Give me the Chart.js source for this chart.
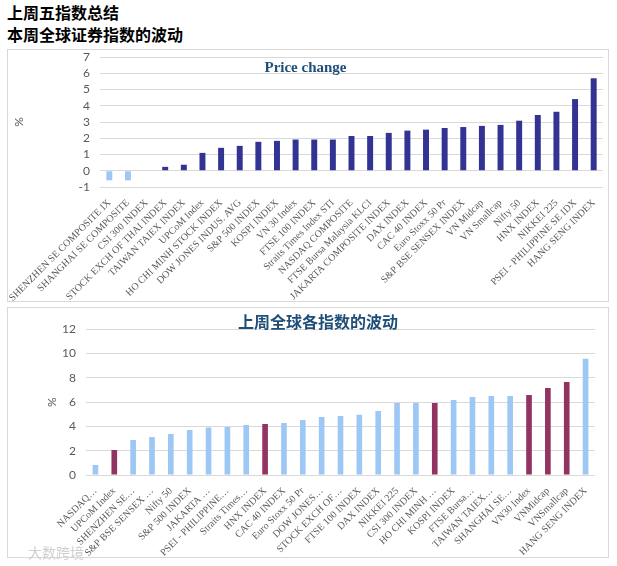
<!DOCTYPE html>
<html>
<head>
<meta charset="utf-8">
<script src="https://cdn.jsdelivr.net/npm/chart.js@4.4.0/dist/chart.umd.min.js"></script>
<style>
    body { margin: 0; background: #fff; width: 617px; height: 566px; position: relative; overflow: hidden;
        font-family: "Noto Sans CJK SC", sans-serif; }
    .head { position: absolute; left: 7px; font-size: 16px; font-weight: bold; color: #000; line-height: 20px; }
    .box { position: absolute; left: 7px; width: 600px; border: 1px solid #d9d9d9; }
    .box canvas { display: block; }
    .mark { position: absolute; left: 28px; top: 542px; color: #d0d0d0; font-size: 14px; }
</style>
</head>
<body>
<div class="head" style="top:2px">上周五指数总结</div>
<div class="head" style="top:24px">本周全球证券指数的波动</div>
<div class="box" style="top:49px;height:251px"><canvas id="priceChange" width="600" height="251"></canvas></div>
<div class="box" style="top:307px;height:249px"><canvas id="volatility" width="600" height="249"></canvas></div>
<div class="mark">大数跨境</div>
<script>
// weekly price change, %
const priceLabels = ['SHENZHEN SE COMPOSITE IX', 'SHANGHAI SE COMPOSITE', 'CSI 300 INDEX',
    'STOCK EXCH OF THAI INDEX', 'TAIWAN TAIEX INDEX', 'UPCoM Index', 'HO CHI MINH STOCK INDEX',
    'DOW JONES INDUS. AVG', 'S&P 500 INDEX', 'KOSPI INDEX', 'VN 30 Index', 'FTSE 100 INDEX',
    'Straits Times Index STI', 'NASDAQ COMPOSITE', 'FTSE Bursa Malaysia KLCI', 'JAKARTA COMPOSITE INDEX',
    'DAX INDEX', 'CAC 40 INDEX', 'Euro Stoxx 50 Pr', 'S&P BSE SENSEX INDEX', 'VN Midcap', 'VN Smallcap',
    'Nifty 50', 'HNX INDEX', 'NIKKEI 225', 'PSEI - PHILIPPINE SE IDX', 'HANG SENG INDEX'];
const priceValues = [-0.59, -0.59, 0, 0.24, 0.37, 1.10, 1.41, 1.53, 1.78, 1.84, 1.92, 1.92, 1.92, 2.14,
    2.14, 2.33, 2.47, 2.53, 2.63, 2.69, 2.76, 2.82, 3.08, 3.43, 3.63, 4.41, 5.69];
const priceTicks = {min: -1, max: 7, step: 1};

// weekly volatility, %
const volLabels = ['NASDAQ…', 'UPCoM Index', 'SHENZHEN SE…', 'S&P BSE SENSEX …', 'Nifty 50', 'S&P 500 INDEX',
    'JAKARTA …', 'PSEI - PHILIPPINE…', 'Straits Times…', 'HNX INDEX', 'CAC 40 INDEX', 'Euro Stoxx 50 Pr',
    'DOW JONES…', 'STOCK EXCH OF…', 'FTSE 100 INDEX', 'DAX INDEX', 'NIKKEI 225', 'CSI 300 INDEX',
    'HO CHI MINH …', 'KOSPI INDEX', 'FTSE Bursa…', 'TAIWAN TAIEX…', 'SHANGHAI SE…', 'VN30 Index',
    'VNMidcap', 'VNSmallcap', 'HANG SENG INDEX'];
const volValues = [0.82, 2.06, 2.88, 3.13, 3.38, 3.71, 3.90, 3.96, 4.12, 4.20, 4.29, 4.53, 4.78, 4.86,
    4.95, 5.27, 5.93, 5.93, 5.93, 6.18, 6.43, 6.51, 6.51, 6.59, 7.17, 7.66, 9.56];
const volTicks = {min: 0, max: 12, step: 2};

// vietnamese indexes get the plum colour
const vnIndexes = ['UPCoM Index', 'HNX INDEX', 'HO CHI MINH …', 'VN30 Index', 'VNMidcap', 'VNSmallcap'];

const GREY = '#595959';


function setChart(chartID, cfg) {
    const ctx = document.getElementById(chartID).getContext('2d');
    return new Chart(ctx, {
        type: 'bar',
        data: {
            labels: cfg.labels,
            datasets: [{
                data: cfg.data,
                backgroundColor: cfg.colors,
                barPercentage: cfg.barPercentage,
                categoryPercentage: 1
            }]
        },
        options: {
            responsive: false,
            animation: false,
            layout: {padding: cfg.padding},
            plugins: {
                legend: {display: false},
                tooltip: {enabled: false},
                title: {
                    display: true,
                    text: cfg.title,
                    color: '#1F4E79',
                    font: cfg.titleFont,
                    padding: cfg.titlePadding
                }
            },
            scales: {
                x: {
                    grid: {display: false},
                    border: {display: false},
                    ticks: {
                        autoSkip: false,
                        minRotation: 45,
                        maxRotation: 45,
                        color: GREY,
                        padding: 2,
                        font: {family: 'Liberation Serif', size: 10}
                    },
                    afterFit: (scale) => {
                        scale.height = cfg.xHeight;
                        scale.paddingLeft = 0;
                        scale.paddingRight = 0;
                    }
                },
                y: {
                    min: cfg.ticks.min,
                    max: cfg.ticks.max,
                    grid: {color: '#d9d9d9', drawTicks: false},
                    border: {display: false},
                    ticks: {
                        stepSize: cfg.ticks.step,
                        autoSkip: false,
                        color: GREY,
                        padding: 10,
                        font: {family: 'Lato', size: 12}
                    },
                    title: {
                        display: true,
                        text: '%',
                        color: GREY,
                        font: {family: 'Lato', size: 12}
                    },
                    afterFit: (scale) => {
                        scale.width = cfg.yWidth;
                        // the title sits over the plot, so no extra room above the top tick
                        scale.paddingTop = 0;
                        scale.paddingBottom = 0;
                    }
                }
            }
        }
    });
}


setChart('priceChange', {
    labels: priceLabels,
    data: priceValues,
    colors: priceValues.map((v) => v < 0 ? '#9DC8F5' : '#333393'),
    barPercentage: 0.32,
    ticks: priceTicks,
    title: 'Price change',
    titleFont: {family: 'Liberation Serif', size: 15, weight: 'bold'},
    titlePadding: {top: 9, bottom: -20},
    padding: {left: 0, right: 5, top: 0, bottom: 0},
    yWidth: 92,
    xHeight: 114
});

setChart('volatility', {
    labels: volLabels,
    data: volValues,
    colors: volLabels.map((l) => vnIndexes.includes(l) ? '#923462' : '#9DC8F5'),
    barPercentage: 0.3,
    ticks: volTicks,
    title: '上周全球各指数的波动',
    titleFont: {family: 'Noto Sans CJK SC', size: 16, weight: 'bold'},
    titlePadding: {top: 4, bottom: -2},
    padding: {left: 33, right: 13, top: 0, bottom: 0},
    yWidth: 45,
    xHeight: 82
});
</script>
</body>
</html>
